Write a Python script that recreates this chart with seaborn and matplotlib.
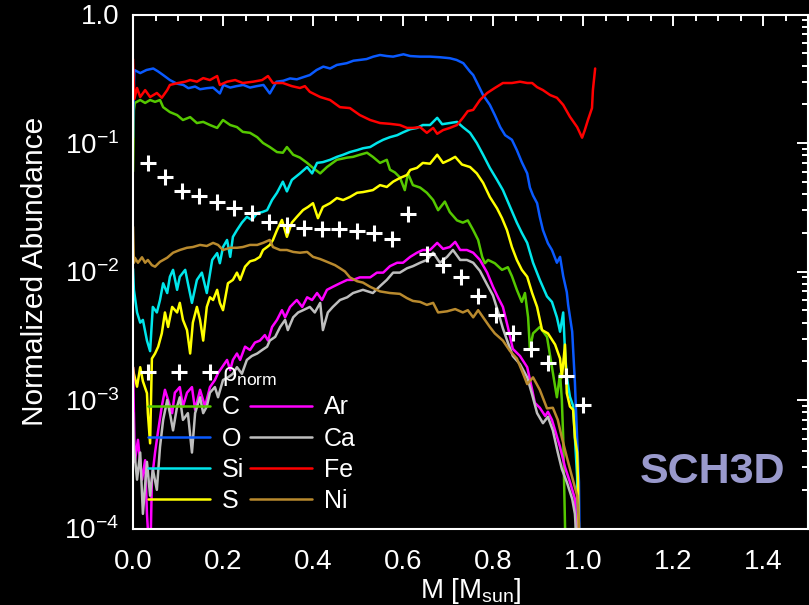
import matplotlib
matplotlib.use("Agg")
import numpy as np
import pandas as pd
import matplotlib.pyplot as plt
import seaborn as sns
from matplotlib.lines import Line2D
from matplotlib.legend_handler import HandlerLine2D
from matplotlib.ticker import (FixedLocator, FixedFormatter, MultipleLocator,
                               LogLocator, NullFormatter, FormatStrFormatter)

# ---------------- data ----------------
c_mass = [0.000, 0.002, 0.004, 0.016, 0.027, 0.038, 0.049, 0.060, 0.067, 0.082,
          0.098, 0.111, 0.127, 0.142, 0.156, 0.171, 0.187, 0.200, 0.216, 0.231,
          0.244, 0.260, 0.276, 0.289, 0.304, 0.320, 0.333, 0.342, 0.356, 0.371,
          0.387, 0.400, 0.416, 0.431, 0.453, 0.476, 0.489, 0.504, 0.520, 0.533,
          0.549, 0.564, 0.571, 0.582, 0.593, 0.604, 0.611, 0.622, 0.638, 0.653,
          0.667, 0.678, 0.693, 0.704, 0.720, 0.733, 0.744, 0.756, 0.767, 0.776,
          0.782, 0.789, 0.804, 0.820, 0.833, 0.842, 0.853, 0.864, 0.871, 0.878,
          0.882, 0.889, 0.904, 0.920, 0.931, 0.942, 0.949, 0.953, 0.956, 0.958,
          0.962, 0.975, 0.988, 0.995]
c_abund = [0.060, 0.180, 0.205, 0.216, 0.205, 0.216, 0.209, 0.216, 0.190, 0.174,
           0.165, 0.151, 0.159, 0.143, 0.146, 0.138, 0.131, 0.151, 0.138, 0.133,
           0.122, 0.120, 0.111, 0.100, 0.093, 0.085, 0.084, 0.093, 0.081, 0.077,
           0.070, 0.064, 0.058, 0.065, 0.074, 0.077, 0.078, 0.081, 0.084, 0.078,
           0.070, 0.074, 0.062, 0.059, 0.054, 0.043, 0.058, 0.047, 0.045, 0.041,
           0.036, 0.030, 0.035, 0.029, 0.025, 0.024, 0.025, 0.021, 0.0176, 0.013,
           0.0116, 0.0123, 0.0116, 0.0103, 0.0108, 0.0092, 0.0072, 0.0058, 0.0068, 0.0044,
           0.0025, 0.0033, 0.0037, 0.0031, 0.0018, 0.00105, 0.0016, 0.0010, 5.1e-4, 2.3e-4,
           5e-5, 5e-5, 1.4e-4, 5e-5]

o_mass = [0.000, 0.001, 0.003, 0.016, 0.030, 0.045, 0.056, 0.067, 0.082, 0.097,
          0.112, 0.123, 0.138, 0.149, 0.164, 0.178, 0.193, 0.201, 0.216, 0.230,
          0.245, 0.260, 0.275, 0.290, 0.304, 0.319, 0.334, 0.349, 0.364, 0.378,
          0.393, 0.408, 0.423, 0.438, 0.453, 0.475, 0.490, 0.504, 0.519, 0.534,
          0.549, 0.564, 0.578, 0.601, 0.616, 0.638, 0.660, 0.682, 0.704, 0.719,
          0.734, 0.749, 0.756, 0.767, 0.778, 0.793, 0.804, 0.816, 0.827, 0.842,
          0.853, 0.864, 0.876, 0.882, 0.889, 0.898, 0.904, 0.911, 0.922, 0.931,
          0.942, 0.949, 0.956, 0.964, 0.967, 0.976, 0.978, 0.982, 0.985, 0.988,
          0.991, 0.993]
o_abund = [0.11, 0.21, 0.37, 0.35, 0.37, 0.38, 0.36, 0.338, 0.309, 0.29,
           0.283, 0.267, 0.275, 0.262, 0.267, 0.27, 0.243, 0.283, 0.27, 0.277,
           0.283, 0.27, 0.277, 0.283, 0.243, 0.30, 0.305, 0.318, 0.313, 0.325,
           0.338, 0.37, 0.393, 0.38, 0.405, 0.418, 0.437, 0.443, 0.45, 0.47,
           0.484, 0.475, 0.47, 0.49, 0.475, 0.47, 0.47, 0.465, 0.457, 0.443,
           0.418, 0.359, 0.338, 0.283, 0.236, 0.198, 0.165, 0.133, 0.115, 0.106,
           0.088, 0.071, 0.058, 0.045, 0.039, 0.034, 0.0266, 0.021, 0.0166, 0.0147,
           0.0117, 0.013, 0.0092, 0.0069, 0.0055, 0.0034, 0.0025, 0.00137, 7.4e-4, 4.1e-4,
           2.3e-4, 5e-5]

si_mass = [0.000, 0.002, 0.009, 0.016, 0.022, 0.031, 0.038, 0.044, 0.053, 0.060,
           0.067, 0.076, 0.082, 0.089, 0.098, 0.104, 0.116, 0.122, 0.131, 0.142,
           0.153, 0.164, 0.176, 0.187, 0.193, 0.200, 0.209, 0.216, 0.222, 0.231,
           0.242, 0.253, 0.264, 0.276, 0.287, 0.298, 0.309, 0.320, 0.333, 0.342,
           0.353, 0.371, 0.387, 0.398, 0.409, 0.422, 0.438, 0.453, 0.467, 0.482,
           0.498, 0.511, 0.527, 0.542, 0.556, 0.571, 0.587, 0.600, 0.616, 0.631,
           0.644, 0.660, 0.676, 0.687, 0.704, 0.720, 0.733, 0.749, 0.764, 0.778,
           0.793, 0.809, 0.822, 0.838, 0.853, 0.864, 0.876, 0.889, 0.904, 0.920,
           0.931, 0.942, 0.949, 0.956, 0.960, 0.964, 0.971, 0.978, 0.982, 0.987,
           0.989]
si_abund = [0.0105, 0.0072, 0.0048, 0.004, 0.0042, 0.0029, 0.0024, 0.0053, 0.0048, 0.006,
            0.0081, 0.0068, 0.0091, 0.0103, 0.0072, 0.0091, 0.0103, 0.0081, 0.0057, 0.0086,
            0.0098, 0.0068, 0.0123, 0.0139, 0.0116, 0.0155, 0.0176, 0.013, 0.0186, 0.021,
            0.024, 0.0266, 0.0252, 0.0285, 0.029, 0.030, 0.036, 0.041, 0.050, 0.042,
            0.0516, 0.058, 0.065, 0.058, 0.070, 0.071, 0.074, 0.078, 0.081, 0.085,
            0.088, 0.091, 0.093, 0.10, 0.106, 0.111, 0.115, 0.121, 0.128, 0.131,
            0.138, 0.138, 0.157, 0.14, 0.143, 0.146, 0.133, 0.12, 0.10, 0.081,
            0.064, 0.0516, 0.043, 0.0318, 0.024, 0.020, 0.0167, 0.0117, 0.0086, 0.0064,
            0.0058, 0.0044, 0.0034, 0.0048, 0.0024, 0.00152, 0.00106, 9.0e-4, 5.1e-4, 2.5e-4,
            5e-5]

s_mass = [0.000, 0.002, 0.009, 0.016, 0.022, 0.031, 0.033, 0.038, 0.042, 0.049,
          0.056, 0.064, 0.071, 0.078, 0.087, 0.098, 0.104, 0.111, 0.120, 0.127,
          0.133, 0.142, 0.149, 0.156, 0.164, 0.171, 0.178, 0.187, 0.193, 0.200,
          0.211, 0.222, 0.231, 0.238, 0.249, 0.260, 0.271, 0.282, 0.289, 0.298,
          0.304, 0.311, 0.320, 0.331, 0.342, 0.353, 0.364, 0.378, 0.389, 0.400,
          0.411, 0.422, 0.438, 0.453, 0.467, 0.482, 0.498, 0.511, 0.533, 0.549,
          0.564, 0.578, 0.593, 0.609, 0.616, 0.631, 0.644, 0.660, 0.676, 0.689,
          0.704, 0.716, 0.731, 0.749, 0.764, 0.778, 0.793, 0.809, 0.820, 0.831,
          0.842, 0.853, 0.864, 0.876, 0.887, 0.898, 0.909, 0.922, 0.938, 0.949,
          0.953, 0.960, 0.964, 0.971, 0.978, 0.982, 0.987, 0.989, 0.991]
s_abund = [0.0018, 0.0016, 0.00127, 0.0018, 0.0014, 0.00113, 7.9e-4, 4.6e-4, 0.0021, 0.0023,
           0.0026, 0.0033, 0.0048, 0.0037, 0.0053, 0.0048, 0.0057, 0.0042, 0.0035, 0.0023,
           0.004, 0.0053, 0.0042, 0.0029, 0.0053, 0.0063, 0.006, 0.0072, 0.0057, 0.005,
           0.0081, 0.0086, 0.0098, 0.0086, 0.0109, 0.012, 0.0123, 0.013, 0.0147, 0.0155,
           0.0161, 0.0176, 0.021, 0.0252, 0.0186, 0.024, 0.0266, 0.0301, 0.0318, 0.034,
           0.026, 0.0318, 0.034, 0.0373, 0.036, 0.038, 0.041, 0.0415, 0.043, 0.047,
           0.0455, 0.05, 0.0534, 0.0564, 0.0617, 0.064, 0.070, 0.069, 0.081, 0.070,
           0.074, 0.078, 0.068, 0.065, 0.058, 0.049, 0.038, 0.031, 0.026, 0.021,
           0.0155, 0.0123, 0.0103, 0.0091, 0.0068, 0.0053, 0.0035, 0.0033, 0.0027, 0.0021,
           0.0015, 0.0027, 0.00113, 8.9e-4, 8.4e-4, 5.1e-4, 3.9e-4, 2.3e-4, 5e-5]

ar_mass = [0.000, 0.002, 0.004, 0.011, 0.020, 0.027, 0.031, 0.038, 0.042, 0.049,
           0.056, 0.064, 0.071, 0.078, 0.087, 0.093, 0.104, 0.111, 0.120, 0.131,
           0.138, 0.149, 0.160, 0.171, 0.182, 0.189, 0.198, 0.209, 0.216, 0.222,
           0.231, 0.238, 0.249, 0.260, 0.271, 0.282, 0.293, 0.300, 0.309, 0.320,
           0.331, 0.338, 0.349, 0.364, 0.376, 0.387, 0.398, 0.409, 0.420, 0.431,
           0.444, 0.460, 0.476, 0.489, 0.504, 0.527, 0.542, 0.556, 0.571, 0.587,
           0.600, 0.616, 0.631, 0.644, 0.660, 0.676, 0.689, 0.704, 0.716, 0.727,
           0.742, 0.756, 0.771, 0.787, 0.800, 0.811, 0.822, 0.833, 0.844, 0.860,
           0.876, 0.887, 0.893, 0.904, 0.916, 0.922, 0.931, 0.938, 0.949, 0.960,
           0.971, 0.982, 0.989]
ar_abund = [0.0018, 7.9e-4, 3.3e-4, 4.9e-4, 2.4e-4, 3.4e-4, 1.3e-4, 5e-5, 2.4e-4, 3.9e-4,
            5.8e-4, 8.9e-4, 0.0012, 0.001, 7.9e-4, 0.00114, 0.00126, 8.9e-4, 0.00114, 0.00126,
            8.4e-4, 0.0012, 8.9e-4, 0.00126, 0.00143, 0.00162, 0.0018, 0.00205, 0.00171, 0.00205,
            0.0023, 0.00205, 0.0026, 0.00245, 0.0028, 0.0029, 0.0032, 0.0029, 0.0037, 0.0042,
            0.005, 0.0044, 0.0053, 0.006, 0.0053, 0.0063, 0.006, 0.0068, 0.006, 0.0072,
            0.0076, 0.0081, 0.0086, 0.0086, 0.009, 0.009, 0.0098, 0.0098, 0.011, 0.0117,
            0.0117, 0.013, 0.014, 0.0147, 0.0147, 0.0167, 0.015, 0.0155, 0.017, 0.0147,
            0.0147, 0.014, 0.0123, 0.0098, 0.0076, 0.0063, 0.0053, 0.0037, 0.0025, 0.0022,
            0.0018, 0.0012, 9.5e-4, 8.7e-4, 7.5e-4, 8.1e-4, 7.0e-4, 5.8e-4, 4.3e-4, 3.0e-4,
            2.3e-4, 1.7e-4, 5e-5]

ca_mass = [0.000, 0.002, 0.009, 0.016, 0.022, 0.031, 0.038, 0.044, 0.053, 0.060,
           0.067, 0.076, 0.082, 0.089, 0.098, 0.104, 0.111, 0.122, 0.131, 0.138,
           0.149, 0.156, 0.164, 0.171, 0.182, 0.189, 0.200, 0.211, 0.222, 0.231,
           0.242, 0.253, 0.264, 0.276, 0.287, 0.298, 0.304, 0.316, 0.327, 0.338,
           0.344, 0.356, 0.367, 0.378, 0.393, 0.404, 0.416, 0.422, 0.433, 0.444,
           0.460, 0.476, 0.489, 0.511, 0.533, 0.549, 0.564, 0.578, 0.593, 0.609,
           0.622, 0.638, 0.653, 0.667, 0.682, 0.698, 0.711, 0.727, 0.742, 0.756,
           0.771, 0.787, 0.800, 0.811, 0.822, 0.833, 0.844, 0.860, 0.876, 0.887,
           0.898, 0.911, 0.922, 0.933, 0.944, 0.953, 0.964, 0.976, 0.982, 0.989]
ca_abund = [8.0e-4, 4.3e-4, 2.4e-4, 3.9e-4, 1.3e-4, 3.3e-4, 1.8e-4, 2.9e-4, 2.0e-4, 4.3e-4,
            7.0e-4, 0.001, 7.9e-4, 5.8e-4, 8.9e-4, 0.00105, 7.0e-4, 7.9e-4, 3.9e-4, 7.9e-4,
            0.00105, 7.9e-4, 8.9e-4, 0.00114, 0.00126, 0.00105, 0.00143, 0.0015, 0.0016, 0.0018,
            0.0016, 0.00205, 0.0022, 0.0023, 0.00245, 0.0026, 0.0029, 0.0031, 0.0037, 0.0042,
            0.0035, 0.0044, 0.0048, 0.005, 0.0053, 0.0048, 0.0057, 0.0035, 0.0048, 0.0053,
            0.006, 0.0063, 0.0068, 0.0072, 0.0068, 0.0077, 0.0086, 0.0098, 0.0098, 0.0106,
            0.011, 0.0117, 0.0123, 0.014, 0.0117, 0.013, 0.0147, 0.0123, 0.0123, 0.0117,
            0.0101, 0.0079, 0.0065, 0.0049, 0.0036, 0.0028, 0.0022, 0.0019, 0.0015, 0.0011,
            7.9e-4, 6.6e-4, 7.4e-4, 5.8e-4, 3.9e-4, 2.9e-4, 2.3e-4, 1.7e-4, 1.3e-4, 5e-5]

fe_mass = [0.000, 0.003, 0.009, 0.016, 0.027, 0.038, 0.053, 0.064, 0.076, 0.082,
           0.100, 0.116, 0.127, 0.142, 0.156, 0.171, 0.187, 0.193, 0.209, 0.227,
           0.244, 0.267, 0.287, 0.300, 0.311, 0.333, 0.353, 0.371, 0.382, 0.393,
           0.416, 0.438, 0.460, 0.482, 0.504, 0.527, 0.549, 0.571, 0.593, 0.609,
           0.622, 0.638, 0.653, 0.667, 0.676, 0.689, 0.704, 0.720, 0.733, 0.744,
           0.756, 0.771, 0.787, 0.804, 0.822, 0.842, 0.860, 0.876, 0.887, 0.898,
           0.911, 0.927, 0.942, 0.956, 0.971, 0.987, 0.998, 1.004, 1.011, 1.020,
           1.022, 1.027]
fe_abund = [0.45, 0.22, 0.268, 0.228, 0.258, 0.228, 0.245, 0.225, 0.258, 0.283,
            0.293, 0.30, 0.309, 0.30, 0.32, 0.309, 0.332, 0.283, 0.30, 0.309,
            0.293, 0.30, 0.309, 0.332, 0.293, 0.293, 0.277, 0.268, 0.277, 0.25,
            0.228, 0.216, 0.19, 0.187, 0.165, 0.151, 0.143, 0.141, 0.138, 0.131,
            0.131, 0.133, 0.120, 0.131, 0.118, 0.126, 0.131, 0.138, 0.157, 0.177,
            0.181, 0.216, 0.245, 0.268, 0.293, 0.293, 0.30, 0.293, 0.293, 0.272,
            0.258, 0.236, 0.225, 0.198, 0.16, 0.133, 0.11, 0.126, 0.151, 0.187,
            0.258, 0.38]

ni_mass = [0.000, 0.002, 0.004, 0.011, 0.020, 0.027, 0.033, 0.042, 0.049, 0.060,
           0.076, 0.089, 0.104, 0.120, 0.133, 0.149, 0.164, 0.178, 0.189, 0.200,
           0.216, 0.231, 0.244, 0.260, 0.276, 0.289, 0.304, 0.311, 0.327, 0.342,
           0.356, 0.371, 0.387, 0.400, 0.416, 0.431, 0.449, 0.460, 0.471, 0.482,
           0.498, 0.511, 0.527, 0.549, 0.571, 0.593, 0.609, 0.622, 0.638, 0.653,
           0.667, 0.678, 0.698, 0.716, 0.733, 0.744, 0.756, 0.767, 0.778, 0.793,
           0.804, 0.822, 0.838, 0.853, 0.867, 0.876, 0.889, 0.904, 0.920, 0.933,
           0.944, 0.953, 0.964, 0.976, 0.987, 0.991, 0.993]
ni_abund = [0.0223, 0.0117, 0.0128, 0.0117, 0.0129, 0.0117, 0.0123, 0.0112, 0.0109, 0.0119,
            0.0128, 0.014, 0.0147, 0.0153, 0.0155, 0.0161, 0.0158, 0.0167, 0.0161, 0.0147,
            0.0153, 0.0153, 0.0155, 0.0161, 0.0161, 0.0167, 0.0176, 0.0155, 0.0147, 0.0147,
            0.0142, 0.014, 0.0142, 0.013, 0.0125, 0.0119, 0.0112, 0.0106, 0.0100, 0.0090,
            0.0084, 0.0082, 0.0076, 0.0070, 0.0068, 0.0067, 0.0062, 0.0059, 0.0058, 0.0055,
            0.0057, 0.0048, 0.0049, 0.0051, 0.0048, 0.005, 0.0044, 0.005, 0.0044, 0.0037,
            0.0033, 0.0029, 0.0024, 0.0021, 0.0016, 0.00133, 0.0015, 0.0012, 8.6e-4, 8.7e-4,
            7.0e-4, 5.1e-4, 3.6e-4, 2.5e-4, 1.8e-4, 1.1e-4, 5e-5]

rho_mass = [0.033, 0.071, 0.109, 0.147, 0.187, 0.224, 0.264, 0.302, 0.342, 0.380,
            0.420, 0.458, 0.498, 0.536, 0.576, 0.611, 0.653, 0.689, 0.729, 0.767,
            0.807, 0.844, 0.884, 0.922, 0.962, 1.000]
rho_norm = [0.070, 0.054, 0.0423, 0.0387, 0.0348, 0.0312, 0.0285, 0.0243, 0.0230, 0.0218,
            0.0214, 0.0214, 0.0207, 0.0199, 0.0179, 0.0280, 0.0137, 0.0112, 0.0091, 0.0064,
            0.0046, 0.0033, 0.0025, 0.00194, 0.00154, 0.00091]

elements = ["C", "O", "Si", "S", "Ar", "Ca", "Fe", "Ni"]
element_colors = ["#55C800", "#0A5AFF", "#00E6EB", "#FFFF00",
                  "#FF00FF", "#BEBEBE", "#FF0000", "#B98A2E"]
x_ticks = [0.0, 0.2, 0.4, 0.6, 0.8, 1.0, 1.2, 1.4]
y_ticks = [1e-4, 1e-3, 1e-2, 1e-1, 1.0]
y_tick_labels = ["$10^{-4}$", "$10^{-3}$", "$10^{-2}$", "$10^{-1}$", "1.0"]

series = {
    "C": (c_mass, c_abund), "O": (o_mass, o_abund), "Si": (si_mass, si_abund),
    "S": (s_mass, s_abund), "Ar": (ar_mass, ar_abund), "Ca": (ca_mass, ca_abund),
    "Fe": (fe_mass, fe_abund), "Ni": (ni_mass, ni_abund),
}
df = pd.concat([pd.DataFrame({"mass": m, "abund": a, "element": e})
                for e, (m, a) in series.items()], ignore_index=True)
palette = dict(zip(elements, element_colors))

# ---------------- style ----------------
sns.set_style("dark", rc={"axes.facecolor": "black", "figure.facecolor": "black",
                          "axes.edgecolor": "white", "axes.grid": False})
plt.rcParams["font.family"] = ["Liberation Sans", "DejaVu Sans"]
plt.rcParams["mathtext.fontset"] = "custom"
plt.rcParams["mathtext.rm"] = "Liberation Sans"
plt.rcParams["mathtext.it"] = "Liberation Sans:italic"
plt.rcParams["mathtext.bf"] = "Liberation Sans:bold"

fig = plt.figure(figsize=(8.09, 6.05), dpi=100, facecolor="black")
ax = fig.add_axes([133 / 809, 1 - 528.5 / 605, 675 / 809, 514 / 605])
ax.set_facecolor("black")
ax.set_yscale("log")

sns.lineplot(data=df, x="mass", y="abund", hue="element", hue_order=elements,
             palette=palette, estimator=None, sort=False, lw=1.8,
             legend=False, ax=ax)
sns.scatterplot(x=rho_mass, y=rho_norm, marker="+", s=120, color="white",
                linewidth=2.2, ax=ax, zorder=5, legend=False)

ax.set_xlim(0, 1.5)
ax.set_ylim(1e-4, 1.0)
ax.xaxis.set_major_locator(FixedLocator(x_ticks))
ax.xaxis.set_minor_locator(MultipleLocator(0.05))
ax.xaxis.set_major_formatter(FormatStrFormatter("%.1f"))
ax.yaxis.set_major_locator(FixedLocator(y_ticks))
ax.yaxis.set_major_formatter(FixedFormatter(y_tick_labels))
ax.yaxis.set_minor_locator(LogLocator(base=10, subs=np.arange(2, 10)))
ax.yaxis.set_minor_formatter(NullFormatter())

ax.tick_params(which="major", direction="in", length=8, width=1.4, colors="white",
               labelsize=20, top=True, right=True, pad=10)
ax.tick_params(axis="x", which="major", pad=15)
ax.tick_params(which="minor", direction="in", length=4.3, width=1.4, colors="white",
               top=True, right=True)
for sp in ax.spines.values():
    sp.set_color("white")
    sp.set_linewidth(1.5)
    sp.set_visible(True)

ax.set_xlabel("M [M$_{\\rm sun}$]", color="white", fontsize=20)
ax.xaxis.set_label_coords(0.5, -0.093)
ax.set_ylabel("Normalized Abundance", color="white", fontsize=21.5)
ax.yaxis.set_label_coords(-0.125, 0.5)

# ---------------- legends ----------------
rho_handle = Line2D([], [], ls="none", marker="+", color="white", ms=11, mew=2.2)
h1 = [rho_handle] + [Line2D([], [], color=palette[e], lw=1.8) for e in ["C", "O", "Si", "S"]]
l1 = ["\u03c1$_{\\rm norm}$", "C", "O", "Si", "S"]
leg1 = ax.legend(h1, l1, loc="lower left", bbox_to_anchor=(0.0222, 0.030),
                 frameon=False, fontsize=18, labelcolor="white", handlelength=2.5,
                 handletextpad=0.45, labelspacing=0.29, borderpad=0, borderaxespad=0,
                 handler_map={rho_handle: HandlerLine2D(marker_pad=0, numpoints=3)})
ax.add_artist(leg1)
h2 = [Line2D([], [], color=palette[e], lw=1.8) for e in ["Ar", "Ca", "Fe", "Ni"]]
leg2 = ax.legend(h2, ["Ar", "Ca", "Fe", "Ni"], loc="lower left",
                 bbox_to_anchor=(0.1733, 0.030), frameon=False, fontsize=18,
                 labelcolor="white", handlelength=2.5, handletextpad=0.45,
                 labelspacing=0.29, borderpad=0, borderaxespad=0)

ax.text(0.8585, 0.11, "SCH3D", transform=ax.transAxes, ha="center", va="center",
        fontsize=31, fontweight="bold", color="#9999CC")

fig.savefig("out.png", dpi=100, facecolor="black")
